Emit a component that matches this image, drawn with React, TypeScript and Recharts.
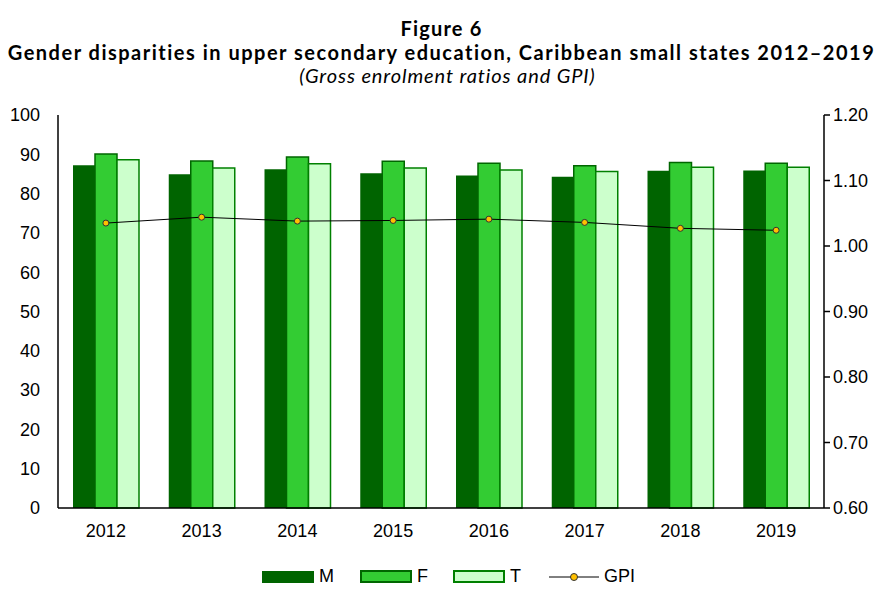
import React from "react"
import { Bar, ComposedChart, Legend, Line, XAxis, YAxis } from "recharts"

const years = ["2012", "2013", "2014", "2015", "2016", "2017", "2018", "2019"]
const male = [87.2, 84.9, 86.2, 85.2, 84.6, 84.3, 85.8, 85.9]
const female = [90.1, 88.3, 89.3, 88.2, 87.7, 87.1, 87.9, 87.7]
const total = [88.6, 86.5, 87.6, 86.5, 86.0, 85.6, 86.7, 86.7]
const gpi = [1.035, 1.044, 1.038, 1.039, 1.041, 1.036, 1.027, 1.024]

const leftTicks = [0, 10, 20, 30, 40, 50, 60, 70, 80, 90, 100]
const rightTicks = [0.6, 0.7, 0.8, 0.9, 1.0, 1.1, 1.2]

const data = years.map((year, i) => ({
  year,
  M: male[i],
  F: female[i],
  T: total[i],
  GPI: gpi[i],
}))

const axisFont = { fontFamily: "'Liberation Sans', Arial, sans-serif", fontSize: 18, fill: "#000" }

function LegendContent() {
  const item = (label: string, icon: React.ReactNode, gap: number) => (
    <div style={{ display: "flex", alignItems: "center", marginRight: gap }}>
      {icon}
      <span style={{ marginLeft: 5, fontFamily: "'Liberation Sans', Arial, sans-serif", fontSize: 18 }}>{label}</span>
    </div>
  )
  return (
    <div style={{ display: "flex", justifyContent: "center", alignItems: "center", paddingLeft: 14 }}>
      {item("M", <div style={{ width: 52, height: 12, background: "#006400" }} />, 26)}
      {item("F", <div style={{ width: 48, height: 9, background: "#33cc33", border: "2px solid #006600" }} />, 25)}
      {item("T", <div style={{ width: 48, height: 9, background: "#ccffcc", border: "2px solid #008000" }} />, 28)}
      {item(
        "GPI",
        <svg width={50} height={12}>
          <line x1={0} y1={6} x2={50} y2={6} stroke="#000" strokeWidth={1} />
          <circle cx={25} cy={6} r={3.5} fill="#ffc000" stroke="#333" strokeWidth={1} />
        </svg>,
        0
      )}
    </div>
  )
}

export default function App() {
  return (
    <div style={{ position: "absolute", left: 0, top: 0, width: 883, height: 591, background: "#fff" }}>
      <div
        style={{
          position: "absolute",
          top: 16,
          left: 0,
          width: 883,
          textAlign: "center",
          fontFamily: "Lato, 'Open Sans', sans-serif",
          color: "#000",
        }}
      >
        <div style={{ fontWeight: 700, fontSize: 20, lineHeight: "24px", letterSpacing: 1.2 }}>Figure 6</div>
        <div style={{ fontWeight: 700, fontSize: 20, lineHeight: "24px", letterSpacing: 1.5 }}>
          Gender disparities in upper secondary education, Caribbean small states 2012–2019
        </div>
        <div style={{ fontStyle: "italic", fontSize: 20, lineHeight: "22px", letterSpacing: 0.9, paddingLeft: 12 }}>
          (Gross enrolment ratios and GPI)
        </div>
      </div>
      <div style={{ position: "absolute", left: 0, top: 0 }}>
        <ComposedChart
          width={883}
          height={591}
          data={data}
          margin={{ top: 115, right: 0, left: 0, bottom: 0 }}
          barGap={0}
        >
          <XAxis
            dataKey="year"
            tickLine={false}
            axisLine={{ stroke: "#000", strokeWidth: 1.5 }}
            tick={axisFont}
            tickMargin={10}
            height={53}
          />
          <YAxis
            yAxisId="left"
            domain={[0, 100]}
            ticks={leftTicks}
            tickLine={false}
            axisLine={{ stroke: "#000", strokeWidth: 1.5 }}
            tick={axisFont}
            tickSize={6}
            tickMargin={12}
            width={58}
            interval={0}
          />
          <YAxis
            yAxisId="right"
            orientation="right"
            domain={[0.6, 1.2]}
            ticks={rightTicks}
            tickFormatter={(v: number) => v.toFixed(2)}
            tickLine={{ stroke: "#000", strokeWidth: 1.5 }}
            axisLine={{ stroke: "#000", strokeWidth: 1.5 }}
            tick={axisFont}
            tickSize={6}
            tickMargin={3}
            width={59}
            interval={0}
          />
          <Legend verticalAlign="bottom" height={30} content={<LegendContent />} wrapperStyle={{ bottom: -5 }} />
          <Bar yAxisId="left" dataKey="M" fill="#006400" barSize={22} isAnimationActive={false} />
          <Bar
            yAxisId="left"
            dataKey="F"
            fill="#33cc33"
            stroke="#006600"
            strokeWidth={1.5}
            barSize={22}
            isAnimationActive={false}
          />
          <Bar
            yAxisId="left"
            dataKey="T"
            fill="#ccffcc"
            stroke="#008000"
            strokeWidth={1.5}
            barSize={22}
            isAnimationActive={false}
          />
          <Line
            yAxisId="right"
            dataKey="GPI"
            stroke="#000"
            strokeWidth={1}
            dot={{ r: 3, fill: "#ffc000", stroke: "#333", strokeWidth: 1 }}
            isAnimationActive={false}
          />
        </ComposedChart>
      </div>
    </div>
  )
}
